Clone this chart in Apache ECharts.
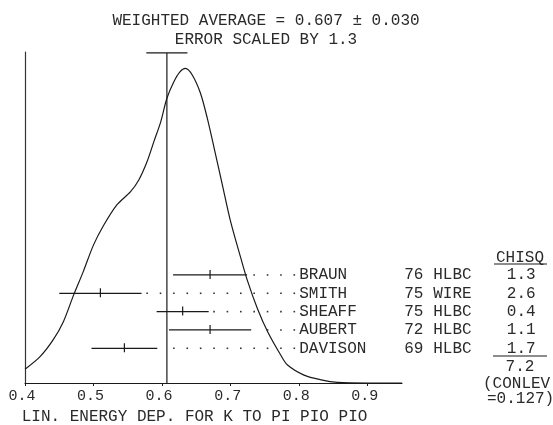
<!DOCTYPE html>
<html>
<head>
<meta charset="utf-8">
<script src="https://cdn.jsdelivr.net/npm/echarts@6/dist/echarts.min.js"></script>
<style>
html,body{margin:0;padding:0;background:#fff;}
#chart{width:553px;height:425px;}
</style>
</head>
<body>
<div id="chart"></div>
<script>
// ---- data ----
const experiments = ['BRAUN', 'SMITH', 'SHEAFF', 'AUBERT', 'DAVISON'];
const years = ['76', '75', '75', '72', '69'];
const techniques = ['HLBC', 'WIRE', 'HLBC', 'HLBC', 'HLBC'];
const values = [0.670, 0.510, 0.630, 0.670, 0.545];
const errors = [0.054, 0.060, 0.038, 0.060, 0.048];
const chisq = ['1.3', '2.6', '0.4', '1.1', '1.7'];
const chisqTotal = '7.2';
const conlev = '0.127';
const weightedAverage = 0.607;
const weightedError = 0.030;
const errorScale = '1.3';
const xTicks = [0.4, 0.5, 0.6, 0.7, 0.8, 0.9];
const xTitle = 'LIN. ENERGY DEP. FOR K TO PI PIO PIO';
// ideogram curve (relative height)
const curveX = [0.400, 0.422, 0.441, 0.456, 0.471, 0.485, 0.500, 0.515, 0.534, 0.554, 0.566, 0.578, 0.588, 0.598, 0.607, 0.617, 0.626, 0.634, 0.644, 0.656, 0.666, 0.676, 0.688, 0.700, 0.715, 0.725, 0.739, 0.754, 0.773, 0.783, 0.807, 0.832, 0.856, 0.900, 0.950];
const curveY = [0.044, 0.084, 0.137, 0.195, 0.280, 0.354, 0.439, 0.502, 0.566, 0.608, 0.645, 0.703, 0.767, 0.830, 0.905, 0.957, 0.989, 1.000, 0.979, 0.921, 0.841, 0.746, 0.629, 0.513, 0.396, 0.322, 0.237, 0.163, 0.089, 0.057, 0.025, 0.010, 0.002, 0.000, 0.000];

// ---- styling ----
const FONT = '"Liberation Mono", "DejaVu Sans Mono", monospace';
const INK = '#1a1a1a';
const TXT = '#2a2a2a';

const chart = echarts.init(document.getElementById('chart'), null, {renderer: 'canvas'});

const rowData = values.map((v, i) => [v, experiments.length - 1 - i, v - errors[i], v + errors[i]]);
const labelStart = 0.80;     // x value where experiment names start
const dotStep = 0.01952;     // spacing of the dotted leader grid
const dotOrigin = 0.5977;

function renderRow(params, api) {
  const i = params.dataIndex;
  const row = api.value(1);
  const c = api.coord([api.value(0), row]);
  const lo = api.coord([api.value(2), row]);
  const hi = api.coord([api.value(3), row]);
  const lab = api.coord([labelStart, row]);
  const y = c[1];
  const children = [
    {type: 'line', shape: {x1: lo[0], y1: y, x2: hi[0], y2: y}, style: {stroke: INK, lineWidth: 1.2}},
    {type: 'line', shape: {x1: c[0], y1: y - 5, x2: c[0], y2: y + 4}, style: {stroke: INK, lineWidth: 1.2}}
  ];
  for (let k = -6; k < 20; k++) {
    const p = api.coord([dotOrigin + k * dotStep, row])[0];
    if (p > hi[0] + 4 && p < lab[0] - 1) {
      children.push({type: 'rect', shape: {x: p - 0.8, y: y - 0.8, width: 1.6, height: 1.6}, style: {fill: '#333'}});
    }
  }
  const ts = (text, x, align) => ({type: 'text', style: {text: text, x: x, y: y, align: align, verticalAlign: 'middle', font: '16px ' + FONT, fill: TXT}});
  children.push(ts(experiments[i], lab[0], 'left'));
  children.push(ts(years[i], lab[0] + 105, 'left'));
  children.push(ts(techniques[i], lab[0] + 134, 'left'));
  children.push(ts(chisq[i], lab[0] + 222, 'center'));
  return {type: 'group', children: children};
}

function renderAverage(params, api) {
  const bottom = api.coord([api.value(0), 0]);
  const top = api.coord([api.value(0), 1.049]);
  const l = api.coord([api.value(0) - api.value(1), 1.049]);
  const r = api.coord([api.value(0) + api.value(1), 1.049]);
  return {type: 'group', children: [
    {type: 'line', shape: {x1: bottom[0], y1: bottom[1], x2: top[0], y2: top[1]}, style: {stroke: INK, lineWidth: 1.2}},
    {type: 'line', shape: {x1: l[0], y1: l[1], x2: r[0], y2: r[1]}, style: {stroke: INK, lineWidth: 1.2}}
  ]};
}

const option = {
  backgroundColor: '#ffffff',
  animation: false,
  title: {
    text: 'WEIGHTED AVERAGE = ' + weightedAverage.toFixed(3) + ' \u00b1 ' + weightedError.toFixed(3) + '\nERROR SCALED BY ' + errorScale,
    left: 261, top: 7, textAlign: 'center',
    textStyle: {fontFamily: FONT, fontSize: 16, fontWeight: 'normal', color: TXT, lineHeight: 18.5}
  },
  grid: {left: 25, right: 151, top: 52, bottom: 42, containLabel: false, outerBoundsMode: 'none'},
  xAxis: {
    type: 'value', min: 0.4, max: 0.95, interval: 0.1,
    name: xTitle, nameLocation: 'middle', nameGap: 17,
    nameTextStyle: {fontFamily: FONT, fontSize: 16, color: TXT, padding: [0, 38, 0, 0]},
    axisLine: {lineStyle: {color: INK, width: 1.2}},
    axisTick: {show: true, length: 3, customValues: xTicks, lineStyle: {color: INK}},
    axisLabel: {customValues: xTicks, formatter: v => v.toFixed(1), margin: 6, fontFamily: FONT, fontSize: 15, color: TXT, padding: [0, 6, 0, 0]},
    splitLine: {show: false}
  },
  yAxis: [
    {type: 'value', min: 0, max: 1.052, axisLine: {show: true, lineStyle: {color: '#333', width: 1.2}}, axisTick: {show: false}, axisLabel: {show: false}, splitLine: {show: false}},
    {type: 'value', min: -1.893, max: 16.16, show: false}
  ],
  series: [
    {type: 'line', data: curveX.map((x, i) => [x, curveY[i]]), showSymbol: false, symbol: 'none', smooth: 0.3, lineStyle: {color: INK, width: 1.2}, z: 3},
    {type: 'custom', yAxisIndex: 0, data: [[weightedAverage, weightedError]], renderItem: renderAverage, z: 4},
    {type: 'custom', yAxisIndex: 1, data: rowData, renderItem: renderRow, z: 5}
  ],
  graphic: [
    {type: 'text', x: 520, y: 258, style: {text: 'CHISQ', align: 'center', verticalAlign: 'middle', font: '16px ' + FONT, fill: TXT}},
    {type: 'line', shape: {x1: 494, y1: 264, x2: 547, y2: 264}, style: {stroke: INK, lineWidth: 1.2}},
    {type: 'line', shape: {x1: 493, y1: 356, x2: 547, y2: 356}, style: {stroke: INK, lineWidth: 1.2}},
    {type: 'text', x: 520, y: 367, style: {text: chisqTotal, align: 'center', verticalAlign: 'middle', font: '16px ' + FONT, fill: TXT}},
    {type: 'text', x: 483, y: 384, style: {text: '(CONLEV', align: 'left', verticalAlign: 'middle', font: '16px ' + FONT, fill: TXT}},
    {type: 'text', x: 487, y: 399, style: {text: '=' + conlev + ')', align: 'left', verticalAlign: 'middle', font: '16px ' + FONT, fill: TXT}}
  ]
};
chart.setOption(option);
</script>
</body>
</html>
